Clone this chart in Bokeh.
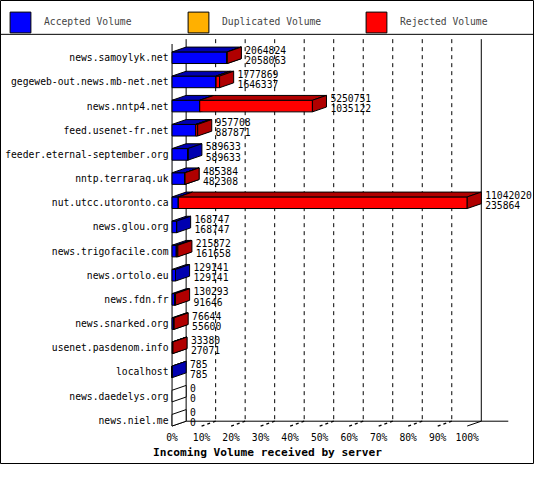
import numpy as np
from bokeh.plotting import figure
from bokeh.models import Range1d, Legend, LegendItem
from bokeh.core.properties import value
from bokeh.embed import file_html
from bokeh.resources import INLINE

# ---------------- data ----------------
servers = [
    "news.samoylyk.net", "gegeweb-out.news.mb-net.net", "news.nntp4.net",
    "feed.usenet-fr.net", "feeder.eternal-september.org", "nntp.terraraq.uk",
    "nut.utcc.utoronto.ca", "news.glou.org", "news.trigofacile.com",
    "news.ortolo.eu", "news.fdn.fr", "news.snarked.org",
    "usenet.pasdenom.info", "localhost", "news.daedelys.org", "news.niel.me",
]
total_volume = [2064824, 1777869, 5250751, 957708, 589633, 485384, 11042020,
                168747, 215872, 129141, 130293, 76644, 33380, 785, 0, 0]
accepted_volume = [2058063, 1646337, 1035122, 887871, 589633, 482308, 235864,
                   168747, 161658, 129141, 91646, 55600, 27071, 785, 0, 0]
duplicated_volume = [0, 0, 0, 0, 0, 0, 0, 0, 0, 0, 0, 0, 0, 0, 0, 0]
pct_ticks = [0, 10, 20, 30, 40, 50, 60, 70, 80, 90, 100]
pct_labels = ["0%", "10%", "20%", "30%", "40%", "50%", "60%", "70%", "80%",
              "90%", "100%"]
series_names = ["Accepted Volume", "Duplicated Volume", "Rejected Volume"]
axis_title = "Incoming Volume received by server"

# ---------------- styling / geometry ----------------
W, H = 534, 464
SX, SY = W / 550.0, H / 480.0
FONT = "DejaVu Sans Mono"
FS = "%.1fpx" % (10 * SX)
COLORS = [("#0000FF", "#0000B0"), ("#FFB000", "#B07C00"), ("#FF0000", "#B00000")]

X0 = 176.7 * SX          # front 0% (screen px)
PPCT = 3.04 * SX         # px per percent
ROWPX = 25.0 * SY        # px per row
Y0 = 59.2 * SY           # centre of first row (screen px)
DX = 14.5 / 3.04         # depth offset, percent units
DY = 5.0 / 25.0          # depth offset, row units (upwards)
HALF = 6.0 / 25.0        # half bar thickness, rows
BACK_TOP = (40 - 59.2) / 25.0
FRONT_BASE = len(servers) - 1 + HALF
BACK_BASE = FRONT_BASE - DY
FLOOR_END = (523 - 176.7) / 3.04
SEP_Y = (35 - 59.2) / 25.0
XLAB_Y = (451.7 - 59.2) / 25.0
TITLE_Y = (467.3 - 59.2) / 25.0
TITLE_X = (275 - 176.7) / 3.04

x_range = Range1d(-X0 / PPCT, (W - X0) / PPCT)
y_range = Range1d((H - Y0) / ROWPX, -Y0 / ROWPX)

p = figure(width=W, height=H, x_range=x_range, y_range=y_range,
           output_backend="svg", toolbar_location=None,
           x_axis_type=None, y_axis_type=None,
           min_border=0, min_border_left=0, min_border_right=0,
           min_border_top=0, min_border_bottom=0)
p.outline_line_color = "black"
p.outline_line_width = 1
p.grid.visible = False
p.background_fill_color = "white"
p.border_fill_color = "white"

tot = np.array(total_volume, dtype=float)
acc = np.array(accepted_volume, dtype=float)
dup = np.array(duplicated_volume, dtype=float)
rej = tot - acc - dup
vmax = tot.max()
rows = np.arange(len(servers))
seg_vals = [acc, dup, rej]

# legend separator
p.segment(x0=[x_range.start], y0=[SEP_Y], x1=[x_range.end], y1=[SEP_Y],
          line_color="black")

# ---------------- back wall, floor ----------------
grid_x = [t + DX for t in pct_ticks[1:-1]]
p.segment(x0=grid_x, y0=[BACK_TOP] * len(grid_x), x1=grid_x,
          y1=[BACK_BASE] * len(grid_x), line_color="black", line_dash="4 4")
p.segment(x0=[DX, 100 + DX, 0], y0=[BACK_TOP, BACK_TOP, BACK_TOP + DY],
          x1=[DX, 100 + DX, 0], y1=[BACK_BASE, BACK_BASE, FRONT_BASE],
          line_color="black")
p.segment(x0=[DX, 0, 100], y0=[BACK_BASE, FRONT_BASE, FRONT_BASE],
          x1=[FLOOR_END, DX, 100 + DX], y1=[BACK_BASE, BACK_BASE, BACK_BASE],
          line_color="black")
tick_x = pct_ticks[1:-1]
p.segment(x0=tick_x, y0=[FRONT_BASE] * len(tick_x),
          x1=[t + DX for t in tick_x], y1=[BACK_BASE] * len(tick_x),
          line_color="black", line_dash="3 3", line_width=1.3)

# ---------------- 3D stacked bars ----------------
front_renderers = []
start = np.zeros(len(servers))
for k, vals in enumerate(seg_vals):
    a = start / vmax * 100
    b = (start + vals) / vmax * 100
    fx, fy, tx, ty, sx_, sy_ = [], [], [], [], [], []
    for i in rows[tot > 0]:
        x1, x2 = a[i], b[i]
        yt, yb = i - HALF, i + HALF
        fx.append([x1, x2, x2, x1]); fy.append([yt, yt, yb, yb])
        if vals[i] > 0:
            tx.append([x1, x1 + DX, x2 + DX, x2]); ty.append([yt, yt - DY, yt - DY, yt])
            sx_.append([x2, x2 + DX, x2 + DX, x2]); sy_.append([yt, yt - DY, yb - DY, yb])
    light, dark = COLORS[k]
    fr = p.patches(xs=fx, ys=fy, fill_color=light, line_color="black")
    p.patches(xs=tx, ys=ty, fill_color=dark, line_color="black")
    p.patches(xs=sx_, ys=sy_, fill_color=dark, line_color="black")
    front_renderers.append(fr)
    start = start + vals

# empty rows: only the outline of the side face
ex, ey = [], []
for i in rows[tot == 0]:
    ex.append([0, DX, DX, 0])
    ey.append([i - HALF, i - HALF - DY, i + HALF - DY, i + HALF])
p.patches(xs=ex, ys=ey, fill_color="white", line_color="black")

# ---------------- value labels ----------------
lab_x = tot / vmax * 100 + DX
txt = dict(text_baseline="middle", text_font=value(FONT), text_font_size=FS,
           text_color="black")
p.text(x=lab_x, y=rows - 0.33, text=[str(v) for v in total_volume],
       x_offset=4 * SX, text_align="left", **txt)
p.text(x=lab_x, y=rows + 0.09, text=[str(v) for v in accepted_volume],
       x_offset=4 * SX, text_align="left", **txt)

# ---------------- category and percent labels ----------------
p.text(x=[0] * len(servers), y=rows, text=servers, x_offset=-3.7 * SX,
       text_align="right", **txt)
p.text(x=pct_ticks, y=[XLAB_Y] * len(pct_ticks), text=pct_labels,
       text_align="center", **txt)
p.text(x=[TITLE_X], y=[TITLE_Y], text=[axis_title], text_align="center",
       text_baseline="middle", text_font=value(FONT), text_font_style="bold",
       text_font_size="%.1fpx" % (11.5 * SX), text_color="black")

# ---------------- legend ----------------
GLYPH = 26
leg_x = 7
leg_top = 8.75
legend = Legend(items=[LegendItem(label=n, renderers=[r])
                       for n, r in zip(series_names, front_renderers)],
                orientation="horizontal",
                location=(leg_x, H - leg_top - GLYPH),
                padding=0, spacing=10, margin=0,
                glyph_width=GLYPH, glyph_height=GLYPH, label_height=GLYPH,
                label_standoff=11, label_width=131,
                label_text_font=FONT, label_text_font_size=FS,
                border_line_color=None,
                background_fill_alpha=0.0)
p.add_layout(legend, "center")

open("out.html", "w").write(file_html(p, INLINE))
